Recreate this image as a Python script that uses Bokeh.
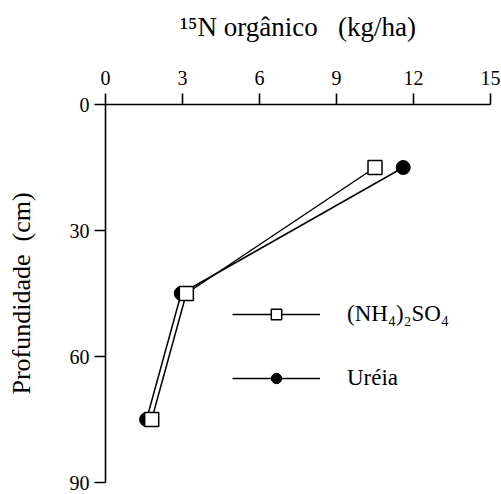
from bokeh.plotting import figure
from bokeh.models import Range1d, FixedTicker, Legend, LegendItem
from bokeh.embed import file_html
from bokeh.resources import INLINE

# data
depth = [15, 45, 75]
nh4 = [10.5, 3.15, 1.8]
ureia = [11.6, 2.95, 1.6]
x_ticks = [0, 3, 6, 9, 12, 15]
y_ticks = [0, 30, 60, 90]
series_labels = ["(NH₄)₂SO₄", "Uréia"]
x_label = "¹⁵N orgânico\u00a0\u00a0\u00a0(kg/ha)"
y_label = "Profundidade\u00a0\u00a0(cm)"

FONT = "Liberation Serif"

p = figure(width=501, height=494, output_backend="svg", toolbar_location=None,
           x_range=Range1d(0, 15), y_range=Range1d(90, 0),
           x_axis_location="above", y_axis_location="left",
           min_border_left=105, min_border_right=11, min_border_top=104, min_border_bottom=12)

p.outline_line_color = None
p.xgrid.grid_line_color = None
p.ygrid.grid_line_color = None
p.background_fill_color = "white"
p.border_fill_color = "white"

for ax, ticks in ((p.xaxis[0], x_ticks), (p.yaxis[0], y_ticks)):
    ax.ticker = FixedTicker(ticks=ticks, minor_ticks=[])
    ax.major_tick_out = 11
    ax.major_tick_in = 0
    ax.minor_tick_out = 0
    ax.minor_tick_in = 0
    ax.axis_line_width = 1.6
    ax.major_tick_line_width = 1.6
    ax.axis_line_color = "black"
    ax.major_tick_line_color = "black"
    ax.major_label_text_font = FONT
    ax.major_label_text_font_size = "20px"
    ax.major_label_text_color = "black"
    ax.axis_label_text_font = FONT
    ax.axis_label_text_font_style = "normal"
    ax.axis_label_text_color = "black"

p.xaxis[0].major_label_standoff = 9
p.yaxis[0].major_label_standoff = 5

p.xaxis[0].axis_label = x_label
p.xaxis[0].axis_label_text_font_size = "27px"
p.xaxis[0].axis_label_standoff = 26

p.yaxis[0].axis_label = y_label
p.yaxis[0].axis_label_text_font_size = "26px"
p.yaxis[0].axis_label_standoff = 31

r_u = p.line(ureia, depth, line_color="black", line_width=1.5)
s_u = p.scatter(ureia, depth, marker="circle", size=14, fill_color="black", line_color="black")
r_n = p.line(nh4, depth, line_color="black", line_width=1.5)
s_n = p.scatter(nh4, depth, marker="square", size=14, fill_color="white", line_color="black", line_width=1.5)

legend = Legend(items=[LegendItem(label=series_labels[0], renderers=[r_n, s_n]),
                       LegendItem(label=series_labels[1], renderers=[r_u, s_u])],
                location=(127, 91), glyph_width=88, glyph_height=26, label_height=26,
                label_standoff=27, spacing=38, padding=0, margin=0,
                border_line_alpha=0, background_fill_alpha=0,
                label_text_font=FONT, label_text_font_size="23px", label_text_color="black")
p.add_layout(legend)

open("out.html", "w").write(file_html(p, INLINE))
